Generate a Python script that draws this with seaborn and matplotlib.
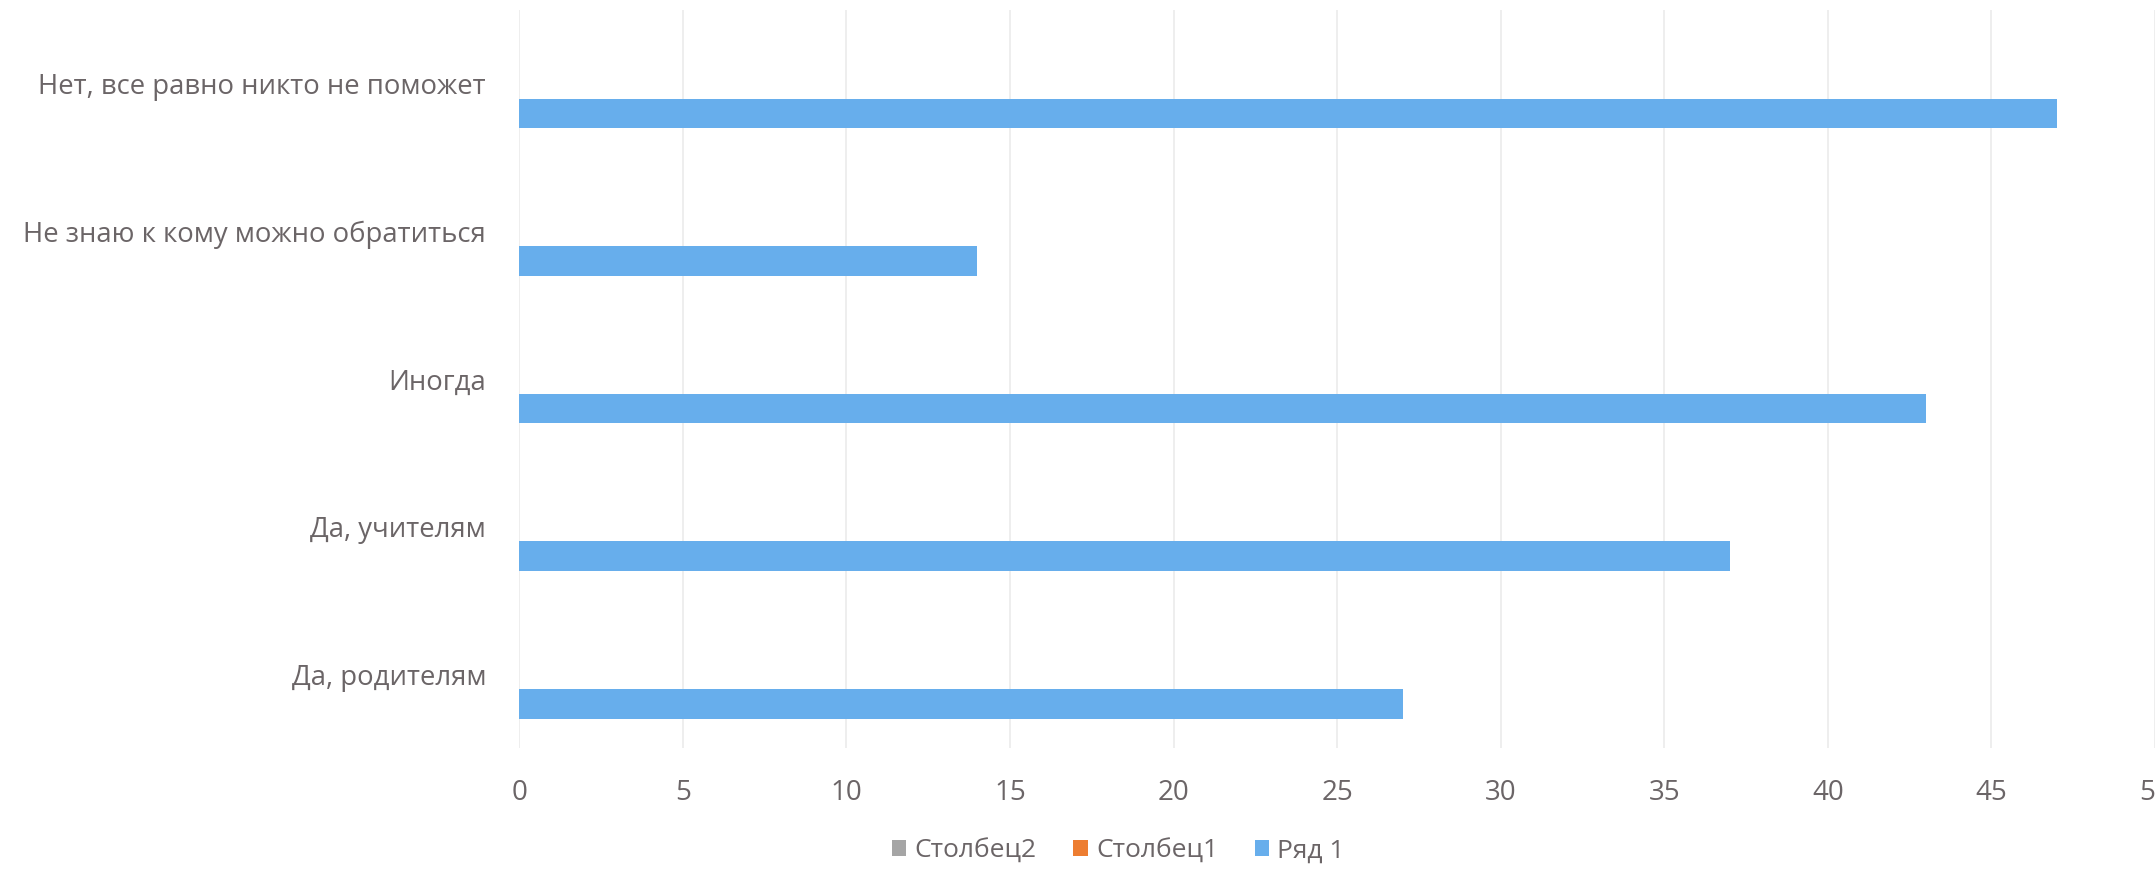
import pandas as pd
import seaborn as sns
import matplotlib.pyplot as plt

# categories top to bottom as in the picture
categories = ['Нет, все равно никто не поможет',
              'Не знаю к кому можно обратиться',
              'Иногда',
              'Да, учителям',
              'Да, родителям']
series_names = ['Столбец2', 'Столбец1', 'Ряд 1']
stolbec2 = [0, 0, 0, 0, 0]
stolbec1 = [0, 0, 0, 0, 0]
ryad1 = [47, 14, 43, 37, 27]
xticks = [0, 5, 10, 15, 20, 25, 30, 35, 40, 45, 50]

colors = {'Столбец2': '#A5A5A5', 'Столбец1': '#ED7D31', 'Ряд 1': '#67AEEC'}
text_color = '#6B6567'

# long format for seaborn
df = pd.DataFrame({
    'category': categories * 3,
    'series': ['Столбец2'] * 5 + ['Столбец1'] * 5 + ['Ряд 1'] * 5,
    'value': stolbec2 + stolbec1 + ryad1,
})

sns.set_style('white')
plt.rcParams['font.family'] = ['Open Sans', 'DejaVu Sans']

fig = plt.figure(figsize=(21.55, 8.69), dpi=100)
# the axis runs to 50 right at the figure edge, as in the reference
ax = fig.add_axes([0.241, 0.1392, 0.759, 0.8493])

sns.barplot(data=df, x='value', y='category', hue='series', hue_order=series_names,
            palette=colors, width=0.6, orient='h', errorbar=None,
            saturation=1, linewidth=0, ax=ax)

ax.set_xlim(0, 50)
ax.set_ylim(4.5, -0.5)
ax.set_xticks(xticks)
ax.set_xlabel('')
ax.set_ylabel('')
ax.xaxis.grid(True, color='#EBEBEB', linewidth=1.2)
ax.set_axisbelow(True)
for s in ax.spines.values():
    s.set_visible(False)
ax.tick_params(axis='x', length=0, pad=22, labelsize=20, labelcolor=text_color)
ax.tick_params(axis='y', length=0, pad=24, labelsize=19.8, labelcolor=text_color)

handles, labels = ax.get_legend_handles_labels()
ax.get_legend().remove()
fig.legend(handles, labels, loc='center', bbox_to_anchor=(0.519, 0.021), ncol=3,
           frameon=False, fontsize=19, labelcolor=text_color,
           handlelength=0.55, handleheight=0.55, handletextpad=0.3, columnspacing=1.4)

fig.savefig('out.png', dpi=100)
